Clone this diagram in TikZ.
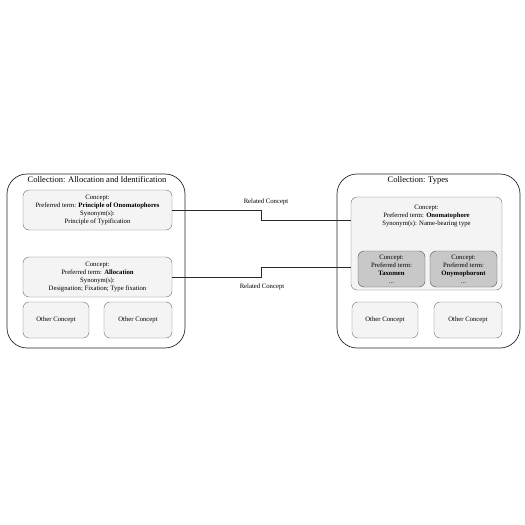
\documentclass[tikz,border=0pt]{standalone}
\usepackage{fontspec}
\setmainfont{Liberation Serif}
\usetikzlibrary{positioning,calc}
\definecolor{boxline}{RGB}{110,110,110}
\definecolor{boxfill}{RGB}{244,244,244}
\definecolor{darkfill}{RGB}{200,200,200}
\definecolor{edgeline}{RGB}{40,40,40}
\tikzset{
  collection/.style = {draw=edgeline, rounded corners=20pt, line width=0.7pt},
  coltitle/.style   = {font=\fontsize{8.5}{10}\selectfont, inner sep=0pt},
  concept/.style    = {draw=boxline, fill=boxfill, rounded corners=6pt,
                       align=center, inner sep=1pt, font=\fontsize{6.7}{7.9}\selectfont},
  subconcept/.style = {concept, fill=darkfill, draw=edgeline!80},
  rel/.style        = {edgeline, line width=0.7pt},
  rellabel/.style   = {font=\fontsize{6.7}{8}\selectfont, inner sep=0pt}
}
\begin{document}
\begin{tikzpicture}[x=1pt, y=-1pt]
  \useasboundingbox[fill=white] (0,0) rectangle (525,525);
  % left collection
  \node[collection, minimum width=178pt, minimum height=174pt] (colA) at (96,261) {};
  \node[coltitle] (colAtitle) at (97,180) {Collection: Allocation and Identification};
  \node[concept, minimum width=149pt, minimum height=40pt] (prin) at (97.5,210)
    {Concept:\\Preferred term: \textbf{Principle of Onomatophores}\\Synonym(s):\\Principle of Typification};
  \node[concept, minimum width=149pt, minimum height=40pt] (alloc) at (97.5,277)
    {Concept:\\Preferred term: \textbf{Allocation}\\Synonym(s):\\Designation; Fixation; Type fixation};
  \node[concept, minimum width=66pt, minimum height=36pt] (otherA1) at (56,320) {Other Concept};
  \node[concept, minimum width=68pt, minimum height=36pt] (otherA2) at (138,320) {Other Concept};
  % right collection
  \node[collection, minimum width=183pt, minimum height=174pt] (colB) at (428.5,261) {};
  \node[coltitle] (colBtitle) at (418,180) {Collection: Types};
  \node[concept, minimum width=151pt, minimum height=93pt] (onoma) at (426.5,243.5) {};
  \node[concept, draw=none, fill=none, inner sep=0pt, below=8pt of onoma.north] (onomatxt)
    {Concept:\\Preferred term: \textbf{Onomatophore}\\Synonym(s): Name-bearing type};
  \node[subconcept, minimum width=67pt, minimum height=36pt] (taxo) at (391.5,269)
    {Concept:\\Preferred term:\\\textbf{Taxomen}\\...};
  \node[subconcept, minimum width=67pt, minimum height=36pt] (onym) at (463.5,269)
    {Concept:\\Preferred term:\\\textbf{Onymophoront}\\...};
  \node[concept, minimum width=66pt, minimum height=36pt] (otherB1) at (385,320) {Other Concept};
  \node[concept, minimum width=68pt, minimum height=36pt] (otherB2) at (468,320) {Other Concept};
  % related concepts
  \coordinate (endA) at ($(onoma.west)+(0,-23.5)$);
  \coordinate (endB) at ($(onoma.west)+(0,23.5)$);
  \draw[rel] (prin.east) -| ($(prin.east)!.5!(endA)$) |- (endA);
  \draw[rel] (alloc.east) -| ($(alloc.east)!.5!(endB)$) |- (endB);
  \node[rellabel] (relA) at (266,202) {Related Concept};
  \node[rellabel] (relB) at (262,287) {Related Concept};
\end{tikzpicture}
\end{document}
